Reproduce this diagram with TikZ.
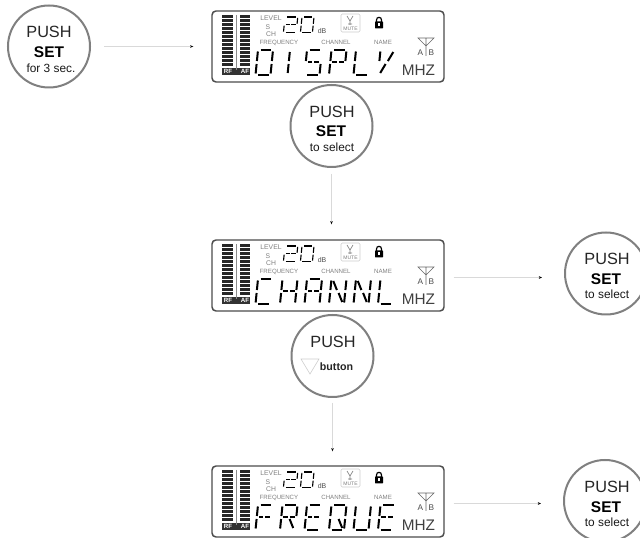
\documentclass[tikz,border=0pt]{standalone}
\usepackage{fontspec}
\setmainfont{Liberation Sans}
\usetikzlibrary{arrows.meta}
\tikzset{
  pushcircle/.style={circle,draw=black!50,line width=1.5pt,minimum size=61.5pt,inner sep=0pt},
  pushtxt/.style={inner sep=0pt,text=black!85,font=\fontsize{12.2}{14}\selectfont},
  settxt/.style={inner sep=0pt,text=black,font=\bfseries\fontsize{11.6}{14}\selectfont},
  subtxt/.style={inner sep=0pt,text=black!90,font=\fontsize{8.9}{10}\selectfont},
  btntxt/.style={inner sep=0pt,text=black!85,font=\bfseries\fontsize{8}{10}\selectfont},
  lcdframe/.style={draw=black!70,line width=1.1pt,rounded corners=3pt,minimum width=174pt,minimum height=53.25pt,inner sep=0pt},
  lcdseg/.style={draw=black,line cap=butt},
  lcdlabel/.style={inner sep=0pt,text=black!50,font=\fontsize{4.6}{5}\selectfont},
  lcdbig/.style={inner sep=0pt,text=black!75,font=\fontsize{11.5}{12}\selectfont},
  lcdab/.style={inner sep=0pt,text=black!70,font=\fontsize{6.2}{7}\selectfont},
  rflabel/.style={inner sep=0pt,text=white,font=\bfseries\fontsize{4.6}{5}\selectfont},
  flowline/.style={draw=black!15,line width=.5pt,-{Stealth[length=2.4pt,width=2pt,black]}}
}
\newcommand{\lsegdef}[2]{\expandafter\def\csname lseg#1\endcsname{\draw[lcdseg] #2;}}
\lsegdef{a}{(2.5,0)--(13,0)}
\lsegdef{b}{(15,1.5)--(15,11)}
\lsegdef{c}{(15,14)--(15,23.5)}
\lsegdef{d}{(2.5,25)--(13,25)}
\lsegdef{e}{(0,14)--(0,23.5)}
\lsegdef{f}{(0,1.5)--(0,11)}
\lsegdef{g}{(2,12.5)--(6.5,12.5)}
\lsegdef{h}{(8.5,12.5)--(13.5,12.5)}
\lsegdef{i}{(2,2)--(6.5,11)}
\lsegdef{j}{(7.5,2)--(7.5,11)}
\lsegdef{k}{(13,2)--(8.5,11)}
\lsegdef{l}{(6.5,14)--(2,23)}
\lsegdef{m}{(7.5,14)--(7.5,23)}
\lsegdef{n}{(8.5,14)--(13,23)}
\def\glyphD{a,b,c,d,e,f}
\def\glyphI{j,m}
\def\glyphS{a,f,g,h,c,d}
\def\glyphP{a,f,b,g,h,e}
\def\glyphL{f,e,d}
\def\glyphY{f,k,l}
\def\glyphC{a,f,e,d}
\def\glyphH{f,e,b,c,g,h}
\def\glyphA{a,f,e,b,c,g,h}
\def\glyphN{f,e,b,c,i,n}
\def\glyphF{a,f,e,g,h}
\def\glyphR{a,f,e,b,g,h,n}
\def\glyphE{a,f,e,d,g,h}
\def\glyphQ{a,b,c,d,e,f,n}
\def\glyphU{f,e,b,c,d}
\def\glyphTwo{a,b,g,h,e,d}
\def\glyphZero{a,b,c,d,e,f}
% x, y, xscale, yscale, line width, glyph
\newcommand{\lcdglyph}[6]{%
  \begin{scope}[shift={(#1,#2)},xslant=.1,xscale=#3,yscale=#4,line width=#5]
    \edef\glyphlist{\csname glyph#6\endcsname}%
    \foreach \s in \glyphlist {\csname lseg\s\endcsname}
  \end{scope}}
% name, y shift, word
\newcommand{\lcdpanel}[3]{%
  \begin{scope}[shift={(0,#2)}]
    \node[lcdframe] (#1) at (328,46.5) {};
    \foreach \r in {0,...,12} {
      \fill[black!85] (222,15+4*\r) rectangle (233,17.6+4*\r);
      \fill[black!85] (240,15+4*\r) rectangle (250,17.6+4*\r);
    }
    \fill[black!80] (222,68) rectangle (250,75);
    \draw[black!45,line width=.5pt] (236,15) -- (236,70);
    \node[rflabel] (#1rf) at (228,71.5) {RF};
    \node[rflabel] (#1af) at (245,71.5) {AF};
    \node[lcdlabel,font=\fontsize{5.1}{6}\selectfont] (#1lv) at (271,18) {LEVEL};
    \node[lcdlabel,font=\fontsize{5.1}{6}\selectfont] (#1s) at (268,27) {S};
    \node[lcdlabel,font=\fontsize{5.1}{6}\selectfont] (#1ch) at (271,34.5) {CH};
    \node[lcdlabel] (#1fr) at (279,42.5) {FREQUENCY};
    \node[lcdlabel] (#1cn) at (336,42.5) {CHANNEL};
    \node[lcdlabel] (#1nm) at (383,42.5) {NAME};
    \node[lcdab,font=\fontsize{5.2}{6}\selectfont] (#1db) at (322,31) {dB};
    \lcdglyph{285}{17}{.85}{.62}{.85pt}{Two}
    \lcdglyph{302}{17}{.8}{.62}{.85pt}{Zero}
    % mute box
    \draw[black!20,line width=.4pt,rounded corners=1pt] (341,14) rectangle (360,32);
    \draw[black!50,line width=.5pt] (347,16) -- (350,21) -- (353,16) (350,21) -- (350,25) (348,24) -- (352,24);
    \node[lcdlabel,font=\fontsize{3.8}{4}\selectfont] (#1mt) at (350.5,29) {MUTE};
    % lock
    \draw[black,line width=.9pt] (376.5,22) -- (376.5,20) .. controls (376.5,16.5) and (381.5,16.5) .. (381.5,20) -- (381.5,22);
    \fill[black,rounded corners=.5pt] (375,21.5) rectangle (383,28.5);
    \fill[white] (378.4,23) rectangle (379.7,26.5);
    % antenna
    \draw[black!60,line width=.45pt] (418,38) -- (434,38) -- (426,46) -- cycle (426,38) -- (426,56);
    \node[lcdab] (#1a) at (420.5,52.7) {A};
    \node[lcdab] (#1b) at (431.5,52.7) {B};
    \node[lcdbig] (#1mhz) at (418.5,70) {MHZ};
    \foreach \c [count=\k from 0] in {#3} {
      \lcdglyph{258+24.5*\k}{50}{1}{1}{1.5pt}{\c}
    }
  \end{scope}}
\begin{document}
\begin{tikzpicture}[x=.75pt,y=-.75pt]
\useasboundingbox (0,0) rectangle (640,538);
\fill[white] (0,0) rectangle (640,538);
\lcdpanel{lcda}{0}{D,I,S,P,L,Y}
\lcdpanel{lcdb}{229}{C,H,A,N,N,L}
\lcdpanel{lcdc}{455}{F,R,E,Q,U,E}
% circle 1
\node[pushcircle] (ca) at (49,46.5) {};
\node[pushtxt] (cat) at (49,32) {PUSH};
\node[settxt] (cas) at (49,52) {SET};
\node[subtxt] (cao) at (51,68) {for 3 sec.};
% circle 2
\node[pushcircle] (cb) at (331.5,126) {};
\node[pushtxt] (cbt) at (332,112) {PUSH};
\node[settxt] (cbs) at (331,131) {SET};
\node[subtxt] (cbo) at (332,147) {to select};
% circle 3
\node[pushcircle] (cc) at (332.5,356) {};
\node[pushtxt] (cct) at (333,342) {PUSH};
\node[btntxt] (ccb) at (336.5,366.5) {button};
\draw[black!20,line width=.4pt] (301,359) -- (319,359) -- (310,374) -- cycle;
% circle 4
\node[pushcircle] (cd) at (606,273.5) {};
\node[pushtxt] (cdt) at (607,259) {PUSH};
\node[settxt] (cds) at (606,279) {SET};
\node[subtxt] (cdo) at (607,294) {to select};
% circle 5
\node[pushcircle] (ce) at (605,501) {};
\node[pushtxt] (cet) at (607,487) {PUSH};
\node[settxt] (ces) at (606,507) {SET};
\node[subtxt] (ceo) at (607,522) {to select};
% connectors
\draw[flowline,shorten <=9.75pt,shorten >=13.5pt] (ca.east) -- (lcda.west);
\draw[flowline,shorten <=4.5pt,shorten >=11.25pt] (cb.south) -- (cb.south |- lcdb.north);
\draw[flowline,shorten <=6.75pt,shorten >=16.5pt,transform canvas={yshift=-1.5pt}] (lcdb.east) -- (lcdb.east -| cd.west);
\draw[flowline,shorten <=3.75pt,shorten >=10.5pt] (cc.south) -- (cc.south |- lcdc.north);
\draw[flowline,shorten <=6.75pt,shorten >=16.5pt,transform canvas={yshift=-1.5pt}] (lcdc.east) -- (lcdc.east -| ce.west);
\end{tikzpicture}
\end{document}
